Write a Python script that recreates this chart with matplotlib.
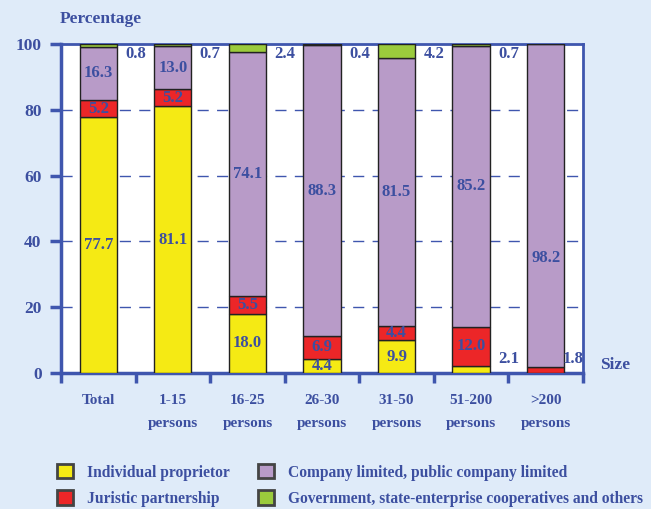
import numpy as np
import matplotlib
matplotlib.use('Agg')
import matplotlib.pyplot as plt
import matplotlib.patches as mpatches

categories = ['Total', '1-15\npersons', '16-25\npersons', '26-30\npersons',
              '31-50\npersons', '51-200\npersons', '>200\npersons']
individual = np.array([77.7, 81.1, 18.0, 4.4, 9.9, 2.1, 0.0])
juristic = np.array([5.2, 5.2, 5.5, 6.9, 4.4, 12.0, 1.8])
company = np.array([16.3, 13.0, 74.1, 88.3, 81.5, 85.2, 98.2])
government = np.array([0.8, 0.7, 2.4, 0.4, 4.2, 0.7, 0.0])

series_names = ['Individual proprietor', 'Juristic partnership',
                'Company limited, public company limited',
                'Government, state-enterprise cooperatives and others']
colors = ['#F5EA14', '#EC2628', '#B89BC8', '#9BCB3C']

bg = '#DFEBF9'
txtc = '#3C4FA0'
linec = '#3F56AE'
font = 'Liberation Serif'

plt.rcParams['font.family'] = font
plt.rcParams['font.weight'] = 'bold'

fig = plt.figure(figsize=(6.51, 5.09), dpi=100, facecolor=bg)
ax = fig.add_axes([0.0937, 0.2672, 0.8018, 0.6464])
ax.set_facecolor('white')

x = np.arange(len(categories)) + 0.5
w = 0.5
bottom = np.zeros(len(x))
for vals, c in zip([individual, juristic, company, government], colors):
    ax.bar(x, vals, w, bottom=bottom, color=c, edgecolor='#222222', linewidth=1, zorder=3)
    bottom = bottom + vals

# dashed grid behind the bars
for yv in [20, 40, 60, 80]:
    ax.axhline(yv, color=linec, lw=1, ls=(0, (8, 6)), zorder=1)

lbl = dict(color=txtc, fontsize=12, fontweight='bold', ha='center', va='center', zorder=5)

# labels inside the bars (big segments) or in the gap to the right (small ones)
for i in range(len(x)):
    b0 = 0.0
    for k, vals in enumerate([individual, juristic, company, government]):
        v = vals[i]
        if v > 0:
            if k == 3:
                ax.text(x[i] + 0.5, 97, '%.1f' % v, **lbl)
            elif v >= 3:
                yc = b0 + v / 2
                if k == 2 and i == 6:
                    yc = 35
                ax.text(x[i], yc, '%.1f' % v, **lbl)
            else:
                xo = 0.5 if i < 6 else 0.37
                ax.text(x[i] + xo, 4.3, '%.1f' % v, **lbl)
        b0 += v

ax.set_xlim(0, 7)
ax.set_ylim(0, 100)
ax.set_yticks([0, 20, 40, 60, 80, 100])
ax.set_xticks(np.arange(8))
ax.set_xticklabels([])
ax.set_xticks(x, minor=True)
ax.set_xticklabels(categories, minor=True, fontsize=11, color=txtc,
                   fontweight='bold', linespacing=2.0)
ax.tick_params(axis='x', which='minor', length=0, pad=15)
ax.tick_params(axis='x', which='major', direction='out', length=7, width=2.5, color=linec)
ax.tick_params(axis='y', direction='out', length=8, width=2.5, color=linec,
               labelsize=12.5, labelcolor=txtc, pad=6)
for t in ax.get_yticklabels():
    t.set_fontweight('bold')

for s in ['left', 'bottom']:
    ax.spines[s].set_color(linec)
    ax.spines[s].set_linewidth(2.5)
for s in ['top', 'right']:
    ax.spines[s].set_color(linec)
    ax.spines[s].set_linewidth(2)

fig.text(60 / 651, 1 - 19 / 509, 'Percentage', color=txtc, fontsize=12.5,
         fontweight='bold', ha='left', va='center')
fig.text(600 / 651, 1 - 365 / 509, 'Size', color=txtc, fontsize=12.5,
         fontweight='bold', ha='left', va='center')

handles = [mpatches.Patch(facecolor=c, edgecolor='#444444', linewidth=2) for c in colors]
leg = fig.legend(handles, series_names,
                 ncol=2, loc='upper left', bbox_to_anchor=(57 / 651, 1 - 464 / 509),
                 frameon=False, borderpad=0, borderaxespad=0, handlelength=1.05,
                 handleheight=1.05, handletextpad=0.9, columnspacing=1.8,
                 labelspacing=0.62, prop={'family': font, 'weight': 'bold', 'size': 11.2})
for t in leg.get_texts():
    t.set_color(txtc)

fig.savefig('out.png', dpi=100, facecolor=bg)
